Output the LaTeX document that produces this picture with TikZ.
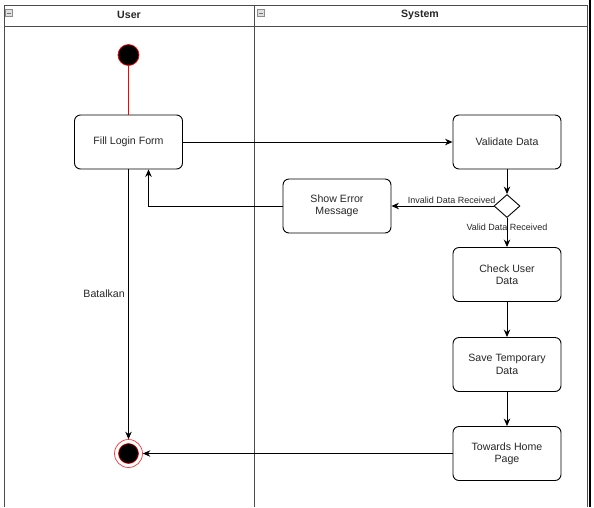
\documentclass[tikz,border=0pt]{standalone}
\usepackage{fontspec}
\setmainfont{Liberation Sans}
\usetikzlibrary{arrows.meta}
\usetikzlibrary{shapes.geometric}
\usetikzlibrary{positioning}

\begin{document}
\begin{tikzpicture}[x=1pt,y=-1pt,line width=0.9pt,>={Stealth[length=7.5pt,width=6.5pt]},
					font=\fontsize{10.6}{12.5}\selectfont,text=black!85]
					\tikzstyle{activity}=[draw,rounded corners=6pt,minimum width=108pt,minimum height=54pt,align=center]
					\tikzstyle{decision}=[draw,diamond,minimum width=26pt,minimum height=23pt,inner sep=0pt,fill=white]
					\tikzstyle{initialstate}=[circle,draw=red,fill=black,line width=0.7pt,minimum size=21pt,inner sep=0pt]
					\tikzstyle{finalstate}=[circle,draw=red!80,line width=0.7pt,minimum size=28pt,inner sep=0pt,
						path picture={\filldraw[fill=black,draw=red,line width=0.6pt] (path picture bounding box.center) circle (10pt);}]
					\tikzstyle{flow}=[->]
					\tikzstyle{guard}=[font=\fontsize{9}{10.5}\selectfont,inner sep=1.5pt]
					\tikzstyle{lane}=[draw=black!70]
					\tikzstyle{lanetitle}=[font=\bfseries\fontsize{10.6}{12.5}\selectfont]
					\tikzstyle{minusbox}=[draw=black!45,fill=black!12,line width=0.6pt,minimum size=7pt,inner sep=0pt,
						path picture={\draw[black!55,line width=0.7pt] ([xshift=-2pt]path picture bounding box.center) -- ([xshift=2pt]path picture bounding box.center);}]
					
					\useasboundingbox (0,0) rectangle (594,507);
					
					% swimlanes
					\draw[lane] (4,507) -- (4,5) -- (587,5) -- (587,507);
					\draw[lane] (4,26) -- (587,26);
					\draw[lane] (254,5) -- (254,507);
					\draw[line width=1.2pt] (590,0) -- (590,507);
					\node[minusbox]  (iconU)  at (9,13)   {};
					\node[minusbox]  (iconS)  at (261,13) {};
					\node[lanetitle] (user)   at (129,15) {User};
					\node[lanetitle] (system) at (420,15) {System};
					
					% activities
					\node[initialstate] (start)     at (128.5,55)    {};
					\node[activity]     (login)     at (128.5,142)   {Fill Login Form};
					\node[activity]     (validate)  at (507,142)     {Validate Data};
					\node[decision]     (valid)     at (507,206)     {};
					\node[activity]     (error)     at (337,206)     {Show Error\\Message};
					\node[activity]     (checkuser) at (507,274.5)   {Check User\\Data};
					\node[activity]     (save)      at (507,364.5)   {Save Temporary\\Data};
					\node[activity]     (home)      at (507,453.5)   {Towards Home\\Page};
					\node[finalstate]   (end)       at (128.5,453.5) {};
					
					\path
					(start)     edge [red,line width=1pt] (login)
					(login)     edge [flow] (validate)
					(validate)  edge [flow] (valid)
					(valid)     edge [flow] node [guard,above,pos=0.41] {Invalid Data Received} (error)
					(valid)     edge [flow] node [guard,pos=0.32] {Valid Data Received} (checkuser)
					(checkuser) edge [flow] (save)
					(save)      edge [flow] (home)
					(home)      edge [flow] (end)
					(login)     edge [flow] node [left,pos=0.46] {Batalkan} (end);
					\draw[flow] (error) -| ([xshift=20pt]login.south);
\end{tikzpicture}
\end{document}
